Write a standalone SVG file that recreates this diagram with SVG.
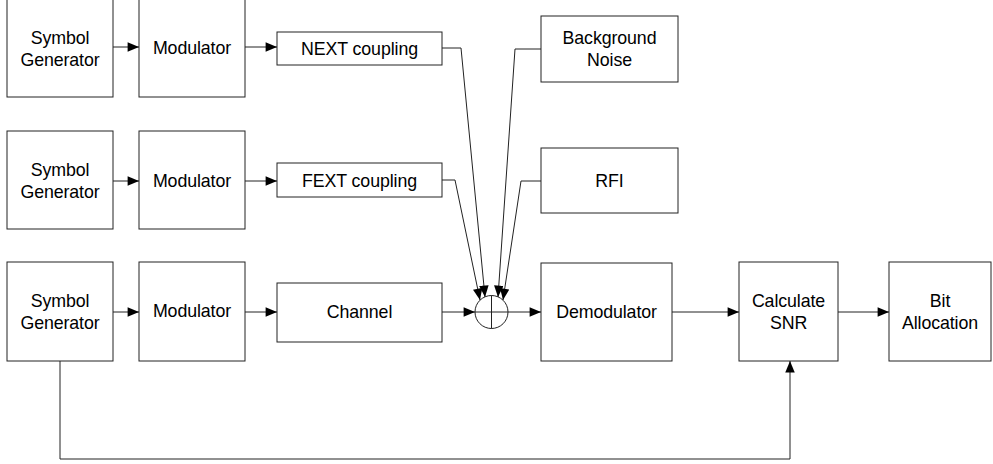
<svg xmlns="http://www.w3.org/2000/svg" width="993" height="464" viewBox="0 0 993 464">
<defs>
<style>
rect.b{fill:#fff;stroke:#222;stroke-width:1}
text{font-family:"Liberation Sans",Arial,sans-serif;font-size:17.8px;fill:#000;text-anchor:middle;letter-spacing:-0.1px}
.c path,.c line,.c polyline{fill:none;stroke:#222;stroke-width:1}
</style>
<marker id="a" viewBox="0 0 12 10" refX="12" refY="5" markerWidth="12" markerHeight="9.5" markerUnits="userSpaceOnUse" orient="auto"><path d="M0,0L12,5L0,10Z" fill="#000"/></marker>
</defs>
<rect width="993" height="464" fill="#fff"/>
<g id="sg1"><rect class="b" x="7" y="-2" width="106" height="99"/><text x="60" y="44">Symbol</text><text x="60" y="66">Generator</text></g>
<g id="mod1"><rect class="b" x="139" y="-2" width="106" height="99"/><text x="192" y="54">Modulator</text></g>
<g id="next"><rect class="b" x="277" y="32" width="165" height="33"/><text x="359.5" y="54.5">NEXT coupling</text></g>
<g id="bn"><rect class="b" x="541" y="16" width="137" height="66"/><text x="609.5" y="44">Background</text><text x="609.5" y="66">Noise</text></g>
<g id="sg2"><rect class="b" x="7" y="131" width="106" height="98"/><text x="60" y="176">Symbol</text><text x="60" y="198">Generator</text></g>
<g id="mod2"><rect class="b" x="139" y="131" width="106" height="98"/><text x="192" y="187">Modulator</text></g>
<g id="fext"><rect class="b" x="277" y="163" width="165" height="34"/><text x="359.5" y="186.5">FEXT coupling</text></g>
<g id="rfi"><rect class="b" x="541" y="148" width="137" height="65"/><text x="609.5" y="187">RFI</text></g>
<g id="sg3"><rect class="b" x="7" y="262" width="106" height="99"/><text x="60" y="307">Symbol</text><text x="60" y="329">Generator</text></g>
<g id="mod3"><rect class="b" x="139" y="262" width="106" height="99"/><text x="192" y="317">Modulator</text></g>
<g id="chan"><rect class="b" x="277" y="283" width="165" height="59"/><text x="359.5" y="318">Channel</text></g>
<g id="sum"><circle cx="491.5" cy="312" r="16.5" fill="#fff" stroke="#222"/><line x1="475" y1="312" x2="508" y2="312" stroke="#222"/><line x1="491.5" y1="295.5" x2="491.5" y2="328.5" stroke="#222"/></g>
<g id="demod"><rect class="b" x="541" y="263" width="131" height="98"/><text x="606.5" y="318">Demodulator</text></g>
<g id="snr"><rect class="b" x="739" y="262" width="99" height="99"/><text x="788.5" y="307">Calculate</text><text x="788.5" y="329">SNR</text></g>
<g id="bit"><rect class="b" x="889" y="262" width="102" height="99"/><text x="940" y="307">Bit</text><text x="940" y="329">Allocation</text></g>
<g class="c" id="connectors">
<line x1="113" y1="47" x2="139" y2="47" marker-end="url(#a)"/>
<line x1="245" y1="47" x2="277" y2="47" marker-end="url(#a)"/>
<line x1="113" y1="181" x2="139" y2="181" marker-end="url(#a)"/>
<line x1="245" y1="181" x2="277" y2="181" marker-end="url(#a)"/>
<line x1="113" y1="312" x2="139" y2="312" marker-end="url(#a)"/>
<line x1="245" y1="312" x2="277" y2="312" marker-end="url(#a)"/>
<line x1="442" y1="312" x2="475" y2="312" marker-end="url(#a)"/>
<line x1="508" y1="312" x2="541" y2="312" marker-end="url(#a)"/>
<line x1="672" y1="312" x2="739" y2="312" marker-end="url(#a)"/>
<line x1="838" y1="312" x2="889" y2="312" marker-end="url(#a)"/>
<polyline points="442,48 461,48 485,297" marker-end="url(#a)"/>
<polyline points="442,180 455,180 480,300" marker-end="url(#a)"/>
<polyline points="541,49 515,49 498,297" marker-end="url(#a)"/>
<polyline points="541,181 521,181 503,300" marker-end="url(#a)"/>
<polyline points="60,361 60,459 790,459 790,361" marker-end="url(#a)"/>
</g>
</svg>
